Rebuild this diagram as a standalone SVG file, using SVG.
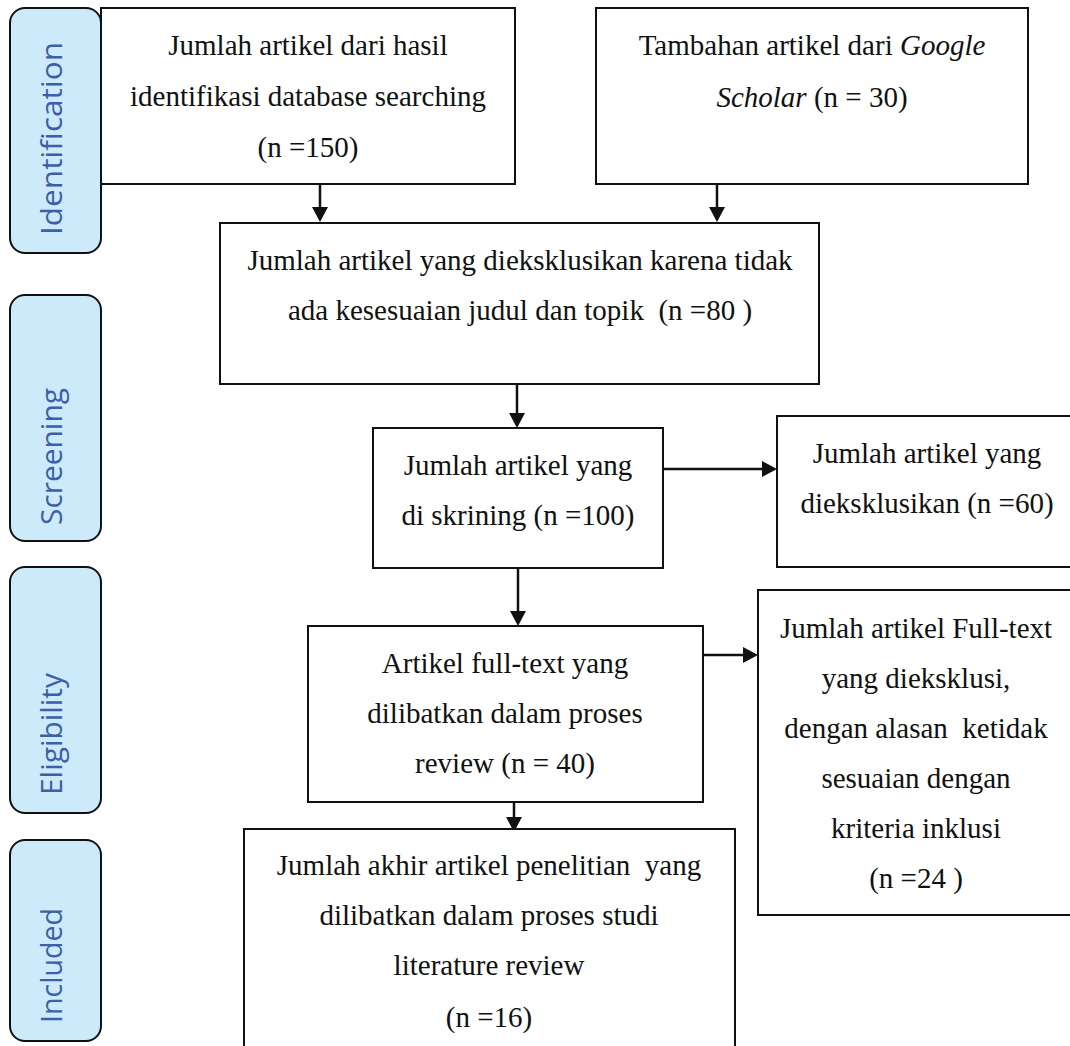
<svg xmlns="http://www.w3.org/2000/svg" width="1070" height="1046" viewBox="0 0 1070 1046">
<style>
.tab{fill:#cdeafb;stroke:#111;stroke-width:2}
.tabt{font-family:"Open Sans","Noto Sans",sans-serif;font-weight:400;font-size:29px;fill:#3d5fa8}
.box{fill:#fff;stroke:#111;stroke-width:2}
.t{font-family:"Liberation Serif","Times New Roman",serif;font-size:29px;fill:#111;text-anchor:middle}
.c{stroke:#111;stroke-width:2.5;fill:none;marker-end:url(#ah)}
</style>
<defs>
<marker id="ah" markerUnits="userSpaceOnUse" markerWidth="18" markerHeight="18" refX="12" refY="8" orient="auto">
<path d="M0,0 L15,8 L0,16 z" fill="#111"/>
</marker>
</defs>
<rect width="1070" height="1046" fill="#fff"/>

<g id="tab-identification"><rect class="tab" x="10" y="8" width="91" height="245" rx="15"/><text class="tabt" transform="translate(62,235) rotate(-90)" textLength="193" lengthAdjust="spacingAndGlyphs">Identification</text></g>
<g id="tab-screening"><rect class="tab" x="10" y="295" width="91" height="246" rx="15"/><text class="tabt" transform="translate(62,525) rotate(-90)" textLength="137" lengthAdjust="spacingAndGlyphs">Screening</text></g>
<g id="tab-eligibility"><rect class="tab" x="10" y="567" width="91" height="246" rx="15"/><text class="tabt" transform="translate(62,795) rotate(-90)" textLength="122" lengthAdjust="spacingAndGlyphs">Eligibility</text></g>
<g id="tab-included"><rect class="tab" x="10" y="840" width="91" height="201" rx="15"/><text class="tabt" transform="translate(62,1023) rotate(-90)" textLength="115" lengthAdjust="spacingAndGlyphs">Included</text></g>

<g id="connectors">
<line class="c" x1="320" y1="184" x2="320" y2="219"/>
<line class="c" x1="717" y1="184" x2="717" y2="219"/>
<line class="c" x1="517" y1="384" x2="517" y2="425"/>
<line class="c" x1="518" y1="568" x2="518" y2="623"/>
<line class="c" x1="663" y1="469" x2="774" y2="469"/>
<line class="c" x1="703" y1="655" x2="755" y2="655"/>
<line class="c" x1="514" y1="802" x2="514" y2="829"/>
</g>

<g id="box-database"><rect class="box" x="101" y="8" width="414" height="176"/>
<text class="t" x="308" y="55">Jumlah artikel dari hasil</text>
<text class="t" x="308" y="106">identifikasi database searching</text>
<text class="t" x="308" y="157">(n =150)</text></g>

<g id="box-scholar"><rect class="box" x="596" y="8" width="432" height="176"/>
<text class="t" x="812" y="55">Tambahan artikel dari <tspan font-style="italic">Google</tspan></text>
<text class="t" x="812" y="107"><tspan font-style="italic">Scholar</tspan> (n = 30)</text></g>

<g id="box-excluded-title"><rect class="box" x="220" y="223" width="599" height="161"/>
<text class="t" x="520" y="270">Jumlah artikel yang dieksklusikan karena tidak</text>
<text class="t" x="520" y="320" xml:space="preserve">ada kesesuaian judul dan topik  (n =80 )</text></g>

<g id="box-screened"><rect class="box" x="373" y="428" width="290" height="140"/>
<text class="t" x="518" y="475">Jumlah artikel yang</text>
<text class="t" x="518" y="525">di skrining (n =100)</text></g>

<g id="box-excluded-60"><rect class="box" x="777" y="416" width="301" height="151"/>
<text class="t" x="927" y="463">Jumlah artikel yang</text>
<text class="t" x="927" y="513">dieksklusikan (n =60)</text></g>

<g id="box-fulltext"><rect class="box" x="308" y="626" width="395" height="176"/>
<text class="t" x="505" y="673">Artikel full-text yang</text>
<text class="t" x="505" y="723">dilibatkan dalam proses</text>
<text class="t" x="505" y="773">review (n = 40)</text></g>

<g id="box-fulltext-excluded"><rect class="box" x="758" y="590" width="318" height="325"/>
<text class="t" x="916" y="638">Jumlah artikel Full-text</text>
<text class="t" x="916" y="688">yang dieksklusi,</text>
<text class="t" x="916" y="738" xml:space="preserve">dengan alasan  ketidak</text>
<text class="t" x="916" y="788">sesuaian dengan</text>
<text class="t" x="916" y="838">kriteria inklusi</text>
<text class="t" x="916" y="888">(n =24 )</text></g>

<g id="box-included"><rect class="box" x="244" y="829" width="491" height="230"/>
<text class="t" x="489" y="875" xml:space="preserve">Jumlah akhir artikel penelitian  yang</text>
<text class="t" x="489" y="925">dilibatkan dalam proses studi</text>
<text class="t" x="489" y="975">literature review</text>
<text class="t" x="489" y="1027">(n =16)</text></g>
</svg>
